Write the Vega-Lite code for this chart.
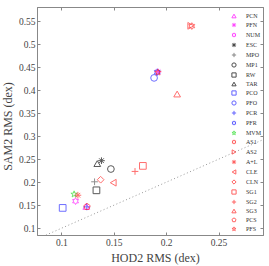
{
  "$schema": "https://vega.github.io/schema/vega-lite/v6.json",
  "autosize": {"type": "none"},
  "padding": {"left": 37, "top": 7, "right": 6, "bottom": 31},
  "width": 226,
  "height": 228,
  "config": {
    "font": "Liberation Serif",
    "view": {"stroke": "#888", "strokeWidth": 1},
    "axis": {"grid": false, "domainColor": "#888", "tickColor": "#888", "tickSize": -3, "labelPadding": 5, "labelFont": "Liberation Serif", "labelFontSize": 9.5, "labelColor": "#444", "titleFont": "Liberation Serif", "titleFontSize": 12, "titleFontWeight": "normal", "titleColor": "#444"}
  },
  "layer": [
    {
      "data": {"values": [{"x": 0.07, "y": 0.07}, {"x": 0.3, "y": 0.3}]},
      "mark": {"type": "line", "clip": true, "color": "#999", "strokeWidth": 1, "strokeDash": [1, 2.5]},
      "encoding": {
        "x": {"field": "x", "type": "quantitative", "scale": {"domain": [0.0768, 0.2924], "nice": false, "zero": false},
              "axis": {"orient": "top", "labels": false, "title": null, "values": [0.1, 0.15, 0.2, 0.25]}},
        "y": {"field": "y", "type": "quantitative", "scale": {"domain": [0.0855, 0.5804], "nice": false, "zero": false},
              "axis": {"orient": "right", "labels": false, "title": null, "values": [0.1, 0.15, 0.2, 0.25, 0.3, 0.35, 0.4, 0.45, 0.5, 0.55]}}
      }
    },
    {
      "data": {"values": [
        {"s": "PCN", "x": 0.1238, "y": 0.1475},
        {"s": "PFN", "x": 0.1922, "y": 0.4395},
        {"s": "NUM", "x": 0.1136, "y": 0.159},
        {"s": "ESC", "x": 0.1383, "y": 0.2468},
        {"s": "MPO", "x": 0.1317, "y": 0.201},
        {"s": "MP1", "x": 0.1473, "y": 0.2287},
        {"s": "RW", "x": 0.1335, "y": 0.1825},
        {"s": "TAR", "x": 0.1343, "y": 0.2405},
        {"s": "PCO", "x": 0.1013, "y": 0.1443},
        {"s": "PFO", "x": 0.1885, "y": 0.4265},
        {"s": "PCR", "x": 0.1243, "y": 0.1465},
        {"s": "PFR", "x": 0.1915, "y": 0.439},
        {"s": "MVM", "x": 0.1122, "y": 0.174},
        {"s": "AS1", "x": 0.2245, "y": 0.539},
        {"s": "AS2", "x": 0.2235, "y": 0.5395},
        {"s": "A+L", "x": 0.1158, "y": 0.1718},
        {"s": "CLE", "x": 0.1495, "y": 0.199},
        {"s": "CLN", "x": 0.1375, "y": 0.2055},
        {"s": "SG1", "x": 0.1778, "y": 0.2355},
        {"s": "SG2", "x": 0.1703, "y": 0.2235},
        {"s": "SG3", "x": 0.2105, "y": 0.3915},
        {"s": "PCS", "x": 0.1245, "y": 0.147},
        {"s": "PFS", "x": 0.1922, "y": 0.4385}
      ]},
      "mark": {"type": "point", "filled": false, "strokeWidth": 1, "size": 45, "opacity": 0.65},
      "encoding": {
        "x": {"field": "x", "type": "quantitative", "scale": {"domain": [0.0768, 0.2924], "nice": false, "zero": false},
              "axis": {"orient": "bottom", "title": "HOD2 RMS (dex)", "values": [0.1, 0.15, 0.2, 0.25], "format": "~g", "titleX": 118, "titleY": 22, "titleBaseline": "middle", "titleAlign": "center"}},
        "y": {"field": "y", "type": "quantitative", "scale": {"domain": [0.0855, 0.5804], "nice": false, "zero": false},
              "axis": {"orient": "left", "title": "SAM2 RMS (dex)", "values": [0.1, 0.15, 0.2, 0.25, 0.3, 0.35, 0.4, 0.45, 0.5, 0.55], "format": "~g", "titleX": -29.5, "titleY": 119, "titleBaseline": "middle", "titleAlign": "center", "titleAngle": -90}},
        "color": {"field": "s", "type": "nominal", "title": null,
          "scale": {"domain": ["PCN","PFN","NUM","ESC","MPO","MP1","RW","TAR","PCO","PFO","PCR","PFR","MVM","AS1","AS2","A+L","CLE","CLN","SG1","SG2","SG3","PCS","PFS"],
                    "range": ["#ff00ff","#ff00ff","#ff00ff","#000000","#555555","#000000","#000000","#000000","#2222ff","#2222ff","#2222ff","#2222ff","#22dd22","#ff2222","#ff2222","#ff2222","#ff2222","#ff2222","#ff2222","#ff2222","#ff2222","#ff2222","#ff2222"]},
          "legend": {"orient": "none", "legendX": 194, "legendY": 6, "padding": 0, "symbolSize": 18, "symbolStrokeWidth": 1, "labelFontSize": 6, "labelFont": "Liberation Serif", "labelColor": "#333", "labelOffset": 9, "rowPadding": 0, "symbolOpacity": 0.7}},
        "shape": {"field": "s", "type": "nominal", "title": null,
          "scale": {"domain": ["PCN","PFN","NUM","ESC","MPO","MP1","RW","TAR","PCO","PFO","PCR","PFR","MVM","AS1","AS2","A+L","CLE","CLN","SG1","SG2","SG3","PCS","PFS"],
                    "range": [
                      "triangle-up",
                      "M-1,0L1,0M0,-1L0,1M-0.7,-0.7L0.7,0.7M-0.7,0.7L0.7,-0.7",
                      "M0,-1L0.289,-0.5L0.866,-0.5L0.577,0L0.866,0.5L0.289,0.5L0,1L-0.289,0.5L-0.866,0.5L-0.577,0L-0.866,-0.5L-0.289,-0.5Z",
                      "M-1,0L1,0M0,-1L0,1M-0.7,-0.7L0.7,0.7M-0.7,0.7L0.7,-0.7",
                      "M-1,0L1,0M0,-1L0,1",
                      "circle",
                      "square",
                      "triangle-up",
                      "square",
                      "circle",
                      "M-1,0L1,0M0,-1L0,1",
                      "M0,-1L0.289,-0.5L0.866,-0.5L0.577,0L0.866,0.5L0.289,0.5L0,1L-0.289,0.5L-0.866,0.5L-0.577,0L-0.866,-0.5L-0.289,-0.5Z",
                      "M0,-1L0.2245,-0.309L0.951,-0.309L0.363,0.118L0.588,0.809L0,0.382L-0.588,0.809L-0.363,0.118L-0.951,-0.309L-0.2245,-0.309Z",
                      "M0,-1L0.289,-0.5L0.866,-0.5L0.577,0L0.866,0.5L0.289,0.5L0,1L-0.289,0.5L-0.866,0.5L-0.577,0L-0.866,-0.5L-0.289,-0.5Z",
                      "triangle-right",
                      "M-1,0L1,0M0,-1L0,1M-0.7,-0.7L0.7,0.7M-0.7,0.7L0.7,-0.7",
                      "triangle-left",
                      "diamond",
                      "square",
                      "M-1,0L1,0M0,-1L0,1",
                      "triangle-up",
                      "M0,-1L0.951,-0.309L0.588,0.809L-0.588,0.809L-0.951,-0.309Z",
                      "M0,-1L0.2245,-0.309L0.951,-0.309L0.363,0.118L0.588,0.809L0,0.382L-0.588,0.809L-0.363,0.118L-0.951,-0.309L-0.2245,-0.309Z"
                    ]},
          "legend": {"orient": "none", "legendX": 194, "legendY": 6}}
      }
    }
  ],
  "resolve": {"axis": {"x": "independent", "y": "independent"}}
}
